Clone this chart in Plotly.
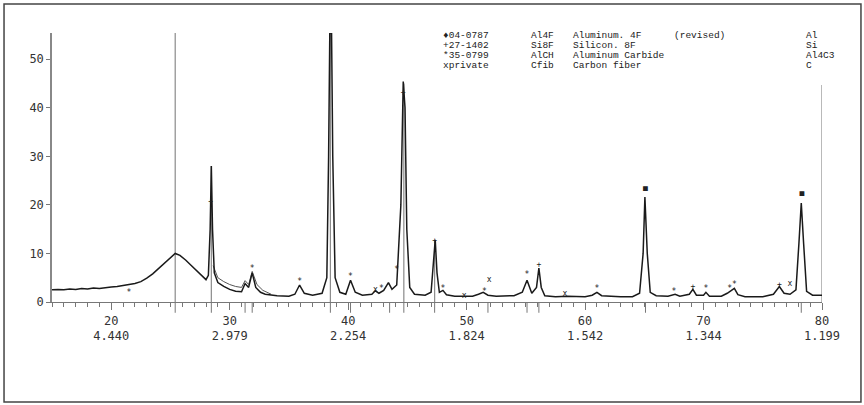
import plotly.graph_objects as go

# ---- data ----
two_theta = [15.0, 15.5, 16.0, 16.5, 17.0, 17.5, 18.0, 18.5, 19.0, 19.5, 20.0, 20.5, 21.0, 21.5, 22.0,
             22.5, 23.0, 23.5, 24.0, 24.5, 25.0, 25.4, 25.8, 26.3, 26.8, 27.3, 27.8, 28.0, 28.2, 28.35,
             28.45, 28.55, 28.7, 29.0, 29.5, 30.0, 30.5, 31.0, 31.3, 31.6, 31.9, 32.2, 32.6, 33.0, 34.0,
             35.0, 35.5, 35.9, 36.3, 37.0, 37.8, 38.2, 38.35, 38.45, 38.6, 38.7, 38.9, 39.3, 39.8, 40.2,
             40.6, 41.2, 42.0, 42.3, 42.6, 43.0, 43.4, 43.7, 44.1, 44.45, 44.65, 44.8, 44.95, 45.2, 45.6,
             46.5, 47.0, 47.2, 47.35, 47.5, 47.7, 48.0, 48.3, 49.0, 50.0, 50.5, 51.0, 51.4, 51.8, 52.5,
             54.0, 54.7, 55.1, 55.5, 55.9, 56.1, 56.3, 56.6, 57.5, 58.5, 60.0, 60.6, 61.0, 61.4, 63.0,
             64.0, 64.6, 64.9, 65.05, 65.25, 65.5, 66.0, 67.0, 67.6, 68.0, 68.8, 69.1, 69.4, 70.0, 70.2,
             70.5, 71.5, 72.0, 72.3, 72.6, 72.9, 73.5, 75.0, 75.9, 76.4, 76.8, 77.3, 77.8, 78.05, 78.25,
             78.45, 78.7, 79.2, 80.0]
intensity = [2.5, 2.6, 2.5, 2.7, 2.6, 2.8, 2.7, 2.9, 2.8, 3.0, 3.1, 3.2, 3.4, 3.5, 3.8,
             4.2, 4.9, 5.8, 6.9, 8.1, 9.3, 10.0, 9.6, 8.6, 7.4, 6.2, 5.0, 4.6, 5.5, 15.0,
             28.0, 15.0, 6.0, 4.0, 3.2, 2.6, 2.2, 2.1, 3.8, 3.0, 6.0, 3.0, 2.0, 1.6, 1.3,
             1.2, 1.6, 3.5, 1.8, 1.4, 1.8, 5.0, 30.0, 55.4, 55.4, 30.0, 5.0, 2.0, 1.6, 4.5,
             2.0, 1.4, 1.6, 2.3, 1.8, 2.4, 4.0, 2.6, 3.5, 20.0, 45.4, 40.0, 15.0, 3.0, 1.6,
             1.4, 2.0, 8.0, 12.8, 6.0, 2.0, 2.4, 1.5, 1.2, 1.3, 1.2, 1.6, 2.0, 1.4, 1.2,
             1.3, 2.0, 4.5, 1.8, 3.0, 7.0, 3.0, 1.3, 1.1, 1.2, 1.1, 1.4, 2.0, 1.3, 1.1,
             1.1, 1.8, 10.0, 21.6, 10.0, 2.0, 1.3, 1.2, 1.6, 1.2, 1.6, 2.6, 1.4, 1.4, 2.0,
             1.2, 1.2, 1.8, 2.4, 2.8, 1.5, 1.1, 1.1, 1.6, 3.2, 1.8, 1.6, 2.5, 12.0, 20.4,
             12.0, 2.2, 1.4, 1.4]

# second (grey) trace, visible only where it separates from the measured one
fit_theta = [28.6, 29.0, 29.5, 30.0, 30.5, 31.0, 31.3, 31.6, 31.9, 32.3, 32.8, 33.5]
fit_int = [7.5, 5.0, 4.2, 3.6, 3.2, 3.0, 4.4, 3.6, 6.3, 3.6, 2.4, 1.6]

# reference stick lines
stick_theta = [25.4, 28.45, 38.5, 44.7, 47.3, 80.0]
stick_height = [55.4, 28.0, 55.4, 45.0, 12.5, 44.7]
# short position ticks below the axis
pos_ticks = [25.4, 28.45, 31.3, 31.9, 38.5, 40.2, 43.5, 44.7, 47.3, 51.8, 55.1, 56.1, 65.1, 78.25]

# phase markers
mark_x = [21.5, 28.4, 31.9, 35.9, 40.2, 42.3, 42.8, 44.1, 44.65, 47.3, 48.0, 49.8, 51.5, 51.9,
          55.1, 56.1, 58.3, 61.0, 65.1, 67.5, 69.1, 70.2, 72.2, 72.6, 76.4, 77.3, 78.3]
mark_y = [1.9, 20.5, 6.8, 4.2, 5.2, 2.5, 2.6, 6.5, 43.0, 12.5, 2.6, 1.2, 2.0, 4.6,
          5.5, 7.6, 1.7, 2.6, 23.3, 2.0, 3.0, 2.6, 2.7, 3.4, 3.6, 3.7, 22.3]
mark_t = ["*", "+", "*", "*", "*", "x", "*", "*", "+", "+", "*", "x", "*", "x",
          "*", "+", "x", "*", "■", "*", "+", "*", "*", "*", "+", "x", "■"]

tick_vals = [20, 30, 40, 50, 60, 70, 80]
d_spacing = ["4.440", "2.979", "2.254", "1.824", "1.542", "1.344", "1.199"]
y_ticks = [0, 10, 20, 30, 40, 50]

legend_id = ["♦04-0787", "+27-1402", "*35-0799", "xprivate"]
legend_code = ["Al4F", "Si8F", "AlCH", "Cfib"]
legend_name = ["Aluminum. 4F", "Silicon. 8F", "Aluminum Carbide", "Carbon fiber"]
legend_note = ["(revised)", "", "", ""]
legend_formula = ["Al", "Si", "Al4C3", "C"]

# ---- figure ----
fig = go.Figure()

sx, sy = [], []
for t, h in zip(stick_theta, stick_height):
    sx += [t, t, None]
    sy += [0, h, None]
fig.add_trace(go.Scatter(x=sx, y=sy, mode="lines", line=dict(color="#8a8a8a", width=1.2),
                         hoverinfo="skip", showlegend=False))

fig.add_trace(go.Scatter(x=fit_theta, y=fit_int, mode="lines",
                         line=dict(color="#555555", width=1.0), showlegend=False))
fig.add_trace(go.Scatter(x=two_theta, y=intensity, mode="lines",
                         line=dict(color="#1a1a1a", width=1.5), showlegend=False))
fig.add_trace(go.Scatter(x=mark_x, y=mark_y, mode="text", text=mark_t,
                         textfont=dict(family="DejaVu Sans Mono", size=8, color="#222222"),
                         textposition="middle center", cliponaxis=False, showlegend=False))

shapes = []
for p in pos_ticks:
    shapes.append(dict(type="line", xref="x", yref="paper", x0=p, x1=p, y0=0, y1=-0.04,
                       line=dict(color="#777", width=1)))
# outer frame
shapes.append(dict(type="rect", xref="paper", yref="paper", x0=-0.0623, x1=1.0506,
                   y0=-0.3717, y1=1.108, line=dict(color="#444", width=1.5)))

annotations = []
rows_y = [35, 45, 55, 65]
cols = [(442, legend_id), (530, legend_code), (572, legend_name), (673, legend_note),
        (805, legend_formula)]
for cx, texts in cols:
    for ry, txt in zip(rows_y, texts):
        if not txt:
            continue
        annotations.append(dict(xref="paper", yref="paper", x=(cx - 52) / 770, y=(302 - ry) / 269,
                                text=txt, showarrow=False, xanchor="left", yanchor="middle",
                                borderpad=0,
                                font=dict(family="Liberation Mono", size=9.5, color="#222")))

fig.update_layout(
    width=864, height=405,
    margin=dict(l=52, r=42, t=33, b=103),
    paper_bgcolor="white", plot_bgcolor="white",
    shapes=shapes, annotations=annotations,
    xaxis=dict(range=[15, 80], showgrid=False, zeroline=False, showline=True,
               linecolor="#777", linewidth=1.2, ticks="outside", ticklen=7, tickcolor="#777",
               tickvals=tick_vals,
               ticktext=[f"{v}<br>{d}" for v, d in zip(tick_vals, d_spacing)],
               tickfont=dict(family="DejaVu Sans Mono", size=12, color="#333"),
               minor=dict(dtick=1, ticks="outside", ticklen=4, tickcolor="#777")),
    yaxis=dict(range=[0, 55.4], showgrid=False, zeroline=False, showline=True,
               linecolor="#888", linewidth=1.5, ticks="outside", ticklen=4, tickcolor="#777",
               tickvals=y_ticks,
               tickfont=dict(family="DejaVu Sans Mono", size=12, color="#333")),
)

fig.write_html("out.html")
